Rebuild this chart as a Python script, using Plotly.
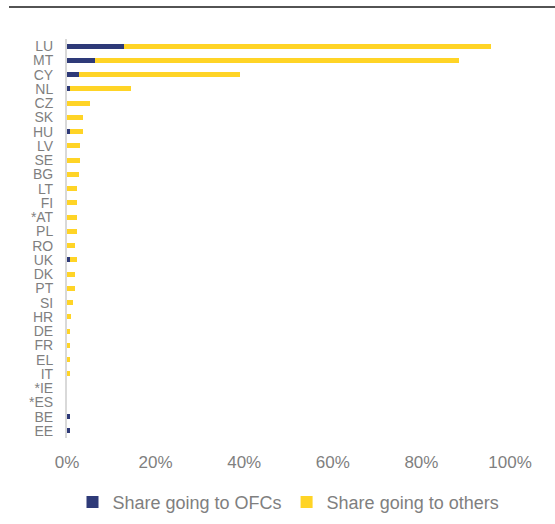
import plotly.graph_objects as go

countries = ["LU", "MT", "CY", "NL", "CZ", "SK", "HU", "LV", "SE", "BG", "LT", "FI", "*AT",
             "PL", "RO", "UK", "DK", "PT", "SI", "HR", "DE", "FR", "EL", "IT", "*IE", "*ES", "BE", "EE"]
share_ofc = [12.9, 6.3, 2.6, 0.7, 0.0, 0.0, 0.6, 0.0, 0.0, 0.0, 0.0, 0.0, 0.0,
             0.0, 0.0, 0.6, 0.0, 0.0, 0.0, 0.0, 0.0, 0.0, 0.0, 0.0, 0.0, 0.0, 0.6, 0.6]
share_others = [82.8, 82.2, 36.4, 13.8, 5.2, 3.7, 3.1, 2.9, 2.9, 2.6, 2.3, 2.3, 2.3,
                2.3, 1.8, 1.7, 1.8, 1.8, 1.4, 1.0, 0.6, 0.6, 0.6, 0.6, 0.0, 0.0, 0.0, 0.0]

ofc = [v / 100 for v in share_ofc]
oth = [v / 100 for v in share_others]

fig = go.Figure()
fig.add_trace(go.Bar(y=countries, x=ofc, orientation="h", name="Share going to OFCs",
                     marker=dict(color="#2E3A78", line=dict(width=0))))
fig.add_trace(go.Bar(y=countries, x=oth, orientation="h", name="Share going to others",
                     marker=dict(color="#FFD426", line=dict(width=0))))

fig.update_layout(
    barmode="stack",
    bargap=0.65,
    width=555, height=524,
    margin=dict(l=67, r=45, t=39, b=86, autoexpand=False),
    plot_bgcolor="white", paper_bgcolor="white",
    font=dict(family="Liberation Sans, Arial, sans-serif", color="#7F7F7F", size=14),
    xaxis=dict(range=[0, 1], tickvals=[0, 0.2, 0.4, 0.6, 0.8, 1.0],
               ticktext=["0%", "20%", "40%", "60%", "80%", "100%"],
               showgrid=False, zeroline=False, showline=False, automargin=False,
               tickfont=dict(size=17, color="#7F7F7F"), ticks="", ticklen=0,
               ticklabelstandoff=12),
    yaxis=dict(categoryorder="array", categoryarray=countries[::-1],
               tickmode="array", tickvals=countries, ticktext=countries,
               showgrid=False, zeroline=False, showline=True, linecolor="#D9D9D9", linewidth=2,
               automargin=False,
               ticks="", tickfont=dict(size=14, color="#7F7F7F"), ticklabelstandoff=9),
    legend=dict(orientation="h", x=0.5, xanchor="center", y=-0.115, yanchor="top",
                font=dict(size=18, color="#7F7F7F"), traceorder="normal",
                itemwidth=30, tracegroupgap=0),
    showlegend=True,
    shapes=[dict(type="line", xref="paper", yref="paper", x0=-0.131, x1=1.102, y0=1.08, y1=1.08,
                 line=dict(color="#1A1A1A", width=1.5))],
)

fig.write_html("out.html", config={"displayModeBar": False},
               post_script="document.body.style.margin='0';")
